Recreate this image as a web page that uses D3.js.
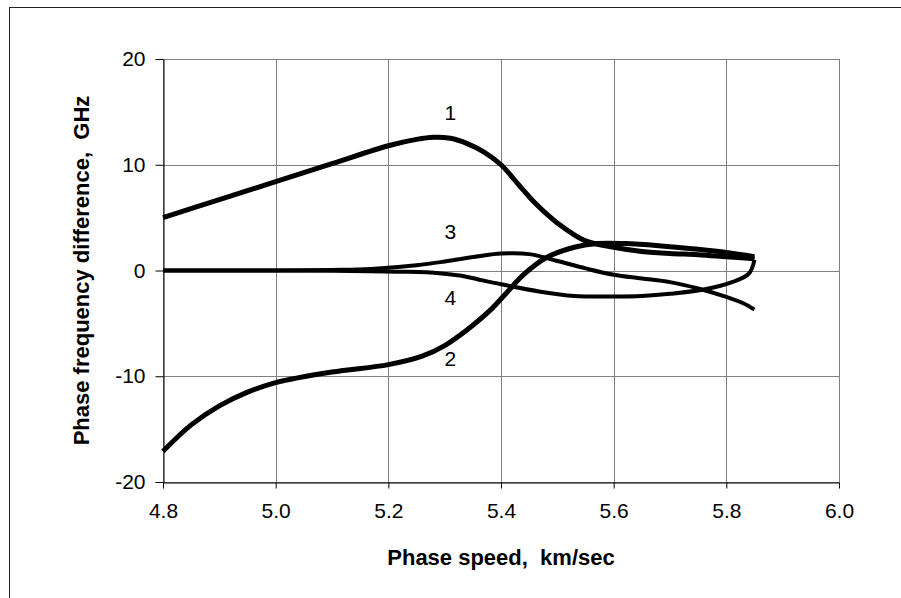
<!doctype html>
<html>
<head>
<meta charset="utf-8" />
<title>Phase frequency difference</title>
<script src="https://cdn.jsdelivr.net/npm/d3@7/dist/d3.min.js"></script>
<style>
  body { margin: 0; background: #fff; }
  text { font-family: "Liberation Sans", Arial, sans-serif; fill: #000; }
</style>
</head>
<body>
<svg id="chart" width="901" height="598"></svg>
<script>
// tick values
var xTicks = [4.8, 5.0, 5.2, 5.4, 5.6, 5.8, 6.0];
var yTicks = [-20, -10, 0, 10, 20];

// curves: [phase speed, frequency difference]
var curve1 = [
  [4.8, 5.0], [4.9, 6.7], [5.0, 8.4], [5.1, 10.1], [5.2, 11.8], [5.25, 12.4],
  [5.28, 12.6], [5.31, 12.5], [5.34, 12.0], [5.37, 11.2], [5.4, 10.0], [5.43, 8.2],
  [5.46, 6.4], [5.5, 4.5], [5.55, 2.8], [5.6, 2.2], [5.65, 1.8], [5.7, 1.6],
  [5.75, 1.5], [5.8, 1.3], [5.85, 1.1]
];
var curve2 = [
  [4.8, -17.1], [4.85, -14.6], [4.9, -12.8], [4.95, -11.5], [5.0, -10.6],
  [5.1, -9.6], [5.2, -8.9], [5.26, -8.1], [5.3, -7.1], [5.34, -5.6],
  [5.38, -3.8], [5.41, -2.1], [5.44, -0.4], [5.48, 1.2], [5.53, 2.2],
  [5.57, 2.55], [5.62, 2.55], [5.68, 2.35], [5.75, 2.0], [5.8, 1.7], [5.85, 1.3]
];
var curve3 = [
  [4.8, 0], [5.0, 0], [5.1, 0.05], [5.17, 0.15], [5.25, 0.5], [5.3, 0.85],
  [5.36, 1.35], [5.4, 1.6], [5.45, 1.55], [5.5, 0.9], [5.55, 0.2], [5.6, -0.4],
  [5.65, -0.75], [5.7, -1.1], [5.75, -1.7], [5.8, -2.5], [5.83, -3.1], [5.85, -3.7]
];
var curve4 = [
  [4.8, 0], [5.0, 0], [5.1, -0.02], [5.17, -0.08], [5.23, -0.12], [5.29, -0.25],
  [5.33, -0.5], [5.36, -0.85], [5.4, -1.3], [5.47, -2.0], [5.53, -2.4],
  [5.6, -2.45], [5.65, -2.4], [5.7, -2.2], [5.76, -1.8], [5.81, -1.1],
  [5.84, -0.3], [5.85, 1.0]
];

var curves = [
  { id: '1', data: curve1, width: 5, label: [5.31, 14.8] },
  { id: '2', data: curve2, width: 5, label: [5.31, -8.5] },
  { id: '3', data: curve3, width: 4, label: [5.31, 3.5] },
  { id: '4', data: curve4, width: 4, label: [5.31, -2.7] }
];

var svg = d3.select('#chart');

// outer frame (runs off the right and bottom of the picture)
svg.append('rect')
  .attr('x', 9.5).attr('y', 7.5)
  .attr('width', 1000).attr('height', 1000)
  .attr('fill', 'none').attr('stroke', '#222').attr('stroke-width', 1);

var plotLeft = 163, plotRight = 839, plotTop = 59, plotBottom = 482;

var x = d3.scaleLinear().domain([4.8, 6.0]).range([plotLeft, plotRight]);
var y = d3.scaleLinear().domain([-20, 20]).range([plotBottom, plotTop]);

// grid
svg.append('g').selectAll('line.vg').data(xTicks).enter().append('line')
  .attr('x1', function(d) { return Math.round(x(d)) + 0.5; })
  .attr('x2', function(d) { return Math.round(x(d)) + 0.5; })
  .attr('y1', plotTop).attr('y2', plotBottom)
  .attr('stroke', '#808080').attr('stroke-width', 1);

svg.append('g').selectAll('line.hg').data(yTicks).enter().append('line')
  .attr('y1', function(d) { return Math.round(y(d)) + 0.5; })
  .attr('y2', function(d) { return Math.round(y(d)) + 0.5; })
  .attr('x1', plotLeft).attr('x2', plotRight)
  .attr('stroke', '#808080').attr('stroke-width', 1);

// axes (plain hyphen for negatives, as in the picture)
var xAxis = d3.axisBottom(x).tickValues(xTicks).tickFormat(function(d) { return d.toFixed(1); })
  .tickSizeInner(6).tickSizeOuter(0).tickPadding(15);
var yAxis = d3.axisLeft(y).tickValues(yTicks).tickFormat(function(d) { return String(d); })
  .tickSizeInner(8).tickSizeOuter(0).tickPadding(10);

var gx = svg.append('g').attr('transform', 'translate(0,' + (Math.round(y(-20)) + 0.5) + ')').call(xAxis);
var gy = svg.append('g').attr('transform', 'translate(' + (plotLeft + 0.5) + ',0)').call(yAxis);

[gx, gy].forEach(function(g) {
  g.select('.domain').attr('stroke', '#000');
  g.selectAll('.tick line').attr('stroke', '#000');
  g.selectAll('.tick text').attr('font-size', 21)
    .attr('font-family', '"Liberation Sans", Arial, sans-serif').attr('fill', '#000');
});

// curves
var line = d3.line()
  .x(function(d) { return x(d[0]); })
  .y(function(d) { return y(d[1]); })
  .curve(d3.curveCatmullRom.alpha(0.5));

svg.append('g').selectAll('path.curve').data(curves).enter().append('path')
  .attr('class', 'curve')
  .attr('d', function(d) { return line(d.data); })
  .attr('fill', 'none')
  .attr('stroke', '#000')
  .attr('stroke-width', function(d) { return d.width; })
  .attr('stroke-linejoin', 'round');

// curve numbers
svg.append('g').selectAll('text.num').data(curves).enter().append('text')
  .attr('x', function(d) { return x(d.label[0]); })
  .attr('y', function(d) { return y(d.label[1]); })
  .attr('text-anchor', 'middle')
  .attr('dominant-baseline', 'middle')
  .attr('font-size', 21)
  .text(function(d) { return d.id; });

// axis titles
svg.append('text')
  .attr('x', (plotLeft + plotRight) / 2).attr('y', 565)
  .attr('text-anchor', 'middle')
  .attr('font-size', 22).attr('font-weight', 'bold')
  .attr('xml:space', 'preserve')
  .text('Phase speed,  km/sec');

svg.append('text')
  .attr('transform', 'translate(89,' + (plotTop + plotBottom) / 2 + ') rotate(-90)')
  .attr('text-anchor', 'middle')
  .attr('font-size', 22).attr('font-weight', 'bold')
  .attr('xml:space', 'preserve')
  .text('Phase frequency difference,  GHz');
</script>
</body>
</html>
